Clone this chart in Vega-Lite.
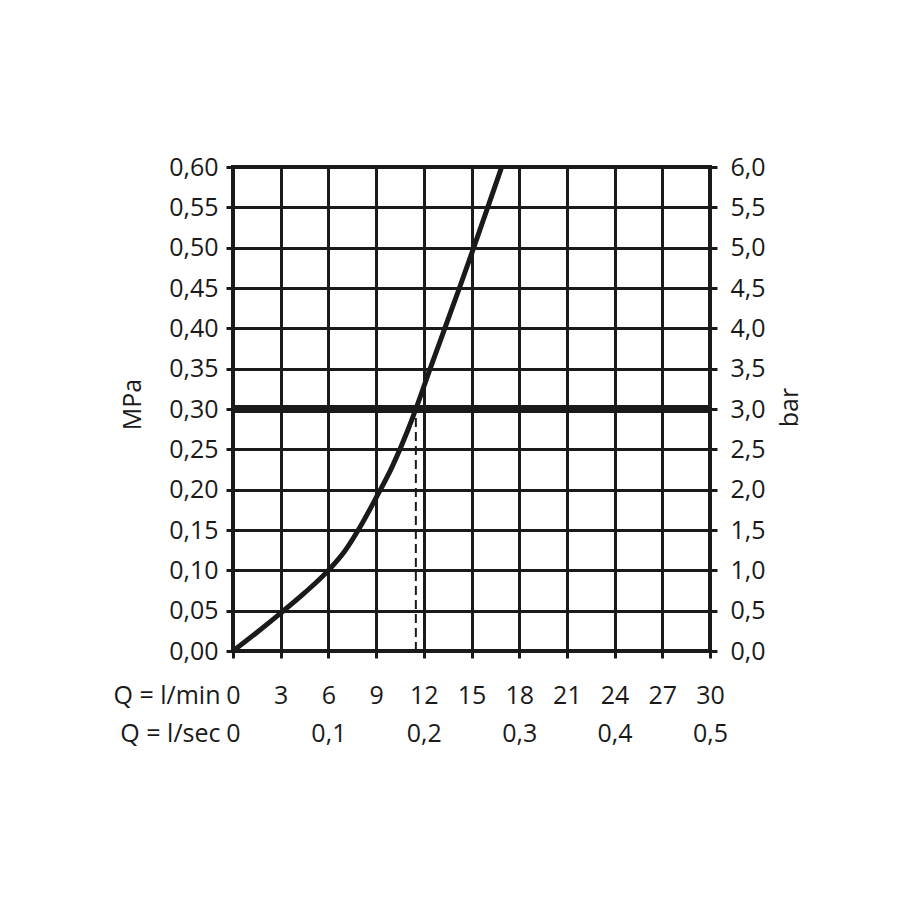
{
  "$schema": "https://vega.github.io/schema/vega-lite/v6.json",
  "width": 477,
  "height": 484,
  "autosize": {"type": "none"},
  "padding": {"left": 233, "top": 167, "right": 208, "bottom": 267},
  "background": "white",
  "config": {
    "view": {"stroke": "#1a1a1a", "strokeWidth": 4},
    "font": "Open Sans",
    "axis": {
      "labelFont": "Open Sans",
      "titleFont": "Open Sans",
      "labelFontSize": 25,
      "titleFontSize": 25,
      "labelColor": "#1a1a1a",
      "titleColor": "#1a1a1a",
      "titleFontWeight": "normal",
      "tickColor": "#1a1a1a",
      "tickWidth": 3,
      "tickSize": 7,
      "domain": false,
      "gridColor": "#1a1a1a",
      "gridOpacity": 1,
      "gridWidth": 3
    }
  },
  "datasets": {
    "curve": [
      {"Q": 0, "P": 0},
      {"Q": 1.5, "P": 0.023},
      {"Q": 3, "P": 0.047},
      {"Q": 4.5, "P": 0.072},
      {"Q": 6, "P": 0.1},
      {"Q": 7, "P": 0.123},
      {"Q": 8, "P": 0.154},
      {"Q": 9, "P": 0.19},
      {"Q": 10, "P": 0.228},
      {"Q": 11, "P": 0.274},
      {"Q": 11.5, "P": 0.3},
      {"Q": 12.4, "P": 0.35},
      {"Q": 13.32, "P": 0.4},
      {"Q": 14.24, "P": 0.45},
      {"Q": 15.14, "P": 0.5},
      {"Q": 16.02, "P": 0.55},
      {"Q": 16.9, "P": 0.6}
    ],
    "drop": [{"Q": 11.5, "P": 0, "P2": 0.3}],
    "bar": [{"bar": 3.0}]
  },
  "layer": [
    {
      "data": {"name": "curve"},
      "mark": {"type": "line", "interpolate": "monotone", "color": "#1a1a1a", "strokeWidth": 5, "clip": true},
      "encoding": {
        "x": {
          "field": "Q", "type": "quantitative",
          "scale": {"domain": [0, 30], "nice": false, "zero": false},
          "axis": {
            "orient": "bottom",
            "values": [0, 3, 6, 9, 12, 15, 18, 21, 24, 27, 30],
            "grid": true,
            "labelFlush": false,
            "labelBaseline": "alphabetic",
            "labelPadding": 45,
            "labelLineHeight": 38,
            "labelExpr": "[datum.label, datum.value % 6 == 0 ? replace(format(datum.value / 60, '.1~f'), '.', ',') : '']",
            "title": ["Q = l/min", "Q = l/sec"],
            "titleAlign": "right",
            "titleAnchor": null,
            "titleBaseline": "alphabetic",
            "titleLineHeight": 38,
            "titleX": -13,
            "titleY": 52,
            "titleAngle": 0
          }
        },
        "y": {
          "field": "P", "type": "quantitative",
          "scale": {"domain": [0, 0.6], "nice": false, "zero": false},
          "axis": {
            "orient": "left",
            "values": [0, 0.05, 0.1, 0.15, 0.2, 0.25, 0.3, 0.35, 0.4, 0.45, 0.5, 0.55, 0.6],
            "grid": true,
            "labelPadding": 8,
            "labelExpr": "replace(format(datum.value, '.2f'), '.', ',')",
            "title": "MPa",
            "titleAngle": -90,
            "titleAlign": "center",
            "titleBaseline": "middle",
            "titleX": -101,
            "titleY": 237
          }
        }
      }
    },
    {
      "data": {"name": "drop"},
      "mark": {"type": "rule", "color": "#1a1a1a", "strokeWidth": 2, "strokeDash": [9, 5]},
      "encoding": {
        "x": {"field": "Q", "type": "quantitative", "scale": {"domain": [0, 30], "nice": false, "zero": false}},
        "y": {"field": "P", "type": "quantitative", "scale": {"domain": [0, 0.6], "nice": false, "zero": false}, "axis": null},
        "y2": {"field": "P2"}
      }
    },
    {
      "data": {"name": "bar"},
      "mark": {"type": "rule", "color": "#1a1a1a", "strokeWidth": 8},
      "encoding": {
        "y": {
          "field": "bar", "type": "quantitative",
          "scale": {"domain": [0, 6], "nice": false, "zero": false},
          "axis": {
            "orient": "right",
            "values": [0, 0.5, 1, 1.5, 2, 2.5, 3, 3.5, 4, 4.5, 5, 5.5, 6],
            "grid": false,
            "labelPadding": 13,
            "labelExpr": "replace(format(datum.value, '.1f'), '.', ',')",
            "title": "bar",
            "titleAngle": -90,
            "titleAlign": "center",
            "titleBaseline": "middle",
            "titleX": 79,
            "titleY": 240
          }
        }
      }
    }
  ],
  "resolve": {"scale": {"y": "independent"}, "axis": {"y": "independent"}}
}
